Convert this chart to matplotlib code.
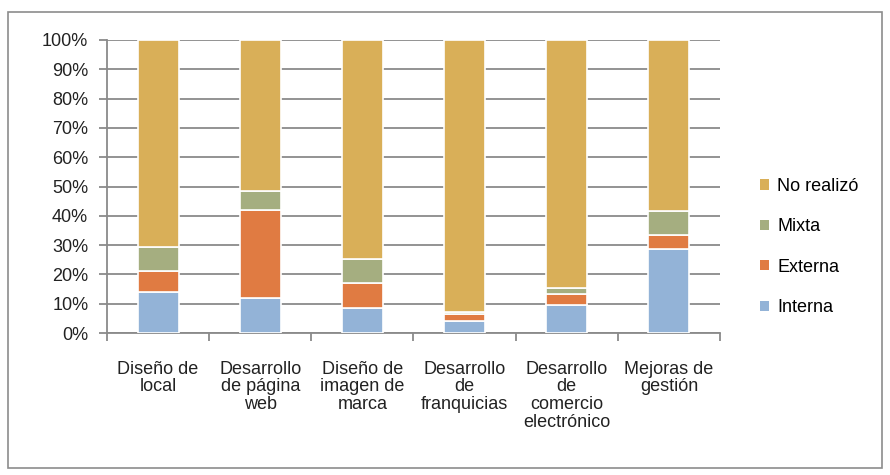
import matplotlib
matplotlib.use("Agg")
import matplotlib.pyplot as plt
import numpy as np
from matplotlib.patches import Rectangle, Patch

categories = ["Diseño de\nlocal", "Desarrollo\nde página\nweb", "Diseño de\nimagen de\nmarca",
              "Desarrollo\nde\nfranquicias", "Desarrollo\nde\ncomercio\nelectrónico", "Mejoras de\ngestión"]
interna = [14.0, 12.0, 8.6, 4.2, 9.6, 28.6]
externa = [7.2, 30.0, 8.6, 2.2, 3.7, 4.8]
mixta = [8.3, 6.5, 8.0, 0.6, 1.9, 8.1]
series_names = ["Interna", "Externa", "Mixta", "No realizó"]
colors = ["#93B3D7", "#E07B42", "#A5AE80", "#D9AF58"]
yticks = [0, 10, 20, 30, 40, 50, 60, 70, 80, 90, 100]

no_realizo = [100 - a - b - c for a, b, c in zip(interna, externa, mixta)]
data = [interna, externa, mixta, no_realizo]

FS = 13
plt.rcParams['font.family'] = ['Liberation Sans', 'DejaVu Sans']
fig = plt.figure(figsize=(8.9, 4.75), dpi=100)
fig.patches.append(Rectangle((8/890, 7/475), 874/890, 456/475, transform=fig.transFigure,
                             fill=False, edgecolor="#8c8c8c", linewidth=1.2))
ax = fig.add_axes([107/890, 1-333/475, (720-107)/890, (333-40)/475])

x = np.arange(len(categories))
bottom = np.zeros(len(categories))
handles = []
for vals, name, c in zip(data, series_names, colors):
    ax.bar(x, vals, width=0.4, bottom=bottom, color=c, edgecolor="white", linewidth=1.2, zorder=3, label=name)
    bottom += np.array(vals)
    handles.append(Patch(facecolor=c, edgecolor="none", label=name))

ax.set_xlim(-0.5, len(categories) - 0.5)
ax.set_ylim(0, 100)
ax.set_yticks(yticks)
ax.set_yticklabels([f"{v}%" for v in yticks], fontsize=FS, color="#222222")
ax.yaxis.grid(True, color="#8a8a8a", linewidth=1.3, zorder=0)
ax.tick_params(axis="y", length=6, width=1.3, color="#8a8a8a", pad=7.5)
ax.set_xticks(x)
ax.set_xticklabels(categories, fontsize=FS, color="#222222", linespacing=1.05)
ax.set_xticks(np.arange(-0.5, len(categories), 1), minor=True)
ax.tick_params(axis="x", which="major", length=0, pad=20)
ax.tick_params(axis="x", which="minor", length=6, width=1.3, color="#8a8a8a")
for s in ["top", "right"]:
    ax.spines[s].set_visible(False)
for s in ["left", "bottom"]:
    ax.spines[s].set_color("#8a8a8a")
    ax.spines[s].set_linewidth(1.3)

fig.legend(handles[::-1], series_names[::-1], loc="center left", bbox_to_anchor=(760/890, 1-247/475),
           frameon=False, fontsize=FS, handlelength=0.5, handleheight=0.5, handletextpad=0.45,
           labelspacing=1.3, borderaxespad=0, borderpad=0)

fig.savefig("out.png", dpi=100)
